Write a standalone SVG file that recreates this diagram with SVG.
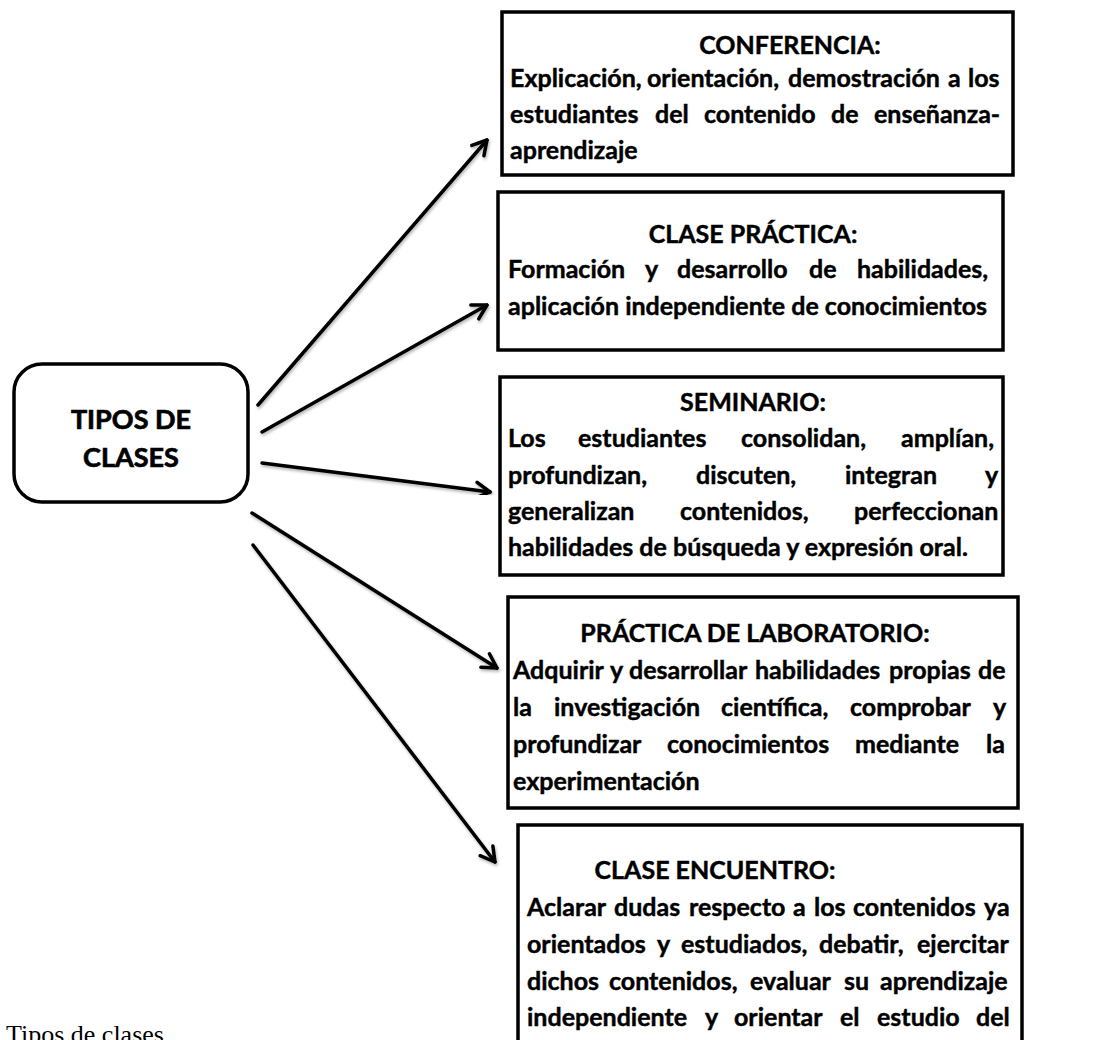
<svg xmlns="http://www.w3.org/2000/svg" width="1099" height="1040" viewBox="0 0 1099 1040">
<style>
.box{fill:#fff;stroke:#000;stroke-width:3.5}
.t{font-family:Lato,"Open Sans","Liberation Sans",sans-serif;font-weight:bold;font-size:25px;fill:#000;stroke:#000;stroke-width:0.45}
.h{text-anchor:middle}
.n{font-size:27px;stroke-width:0.7}
.c{stroke:#000;stroke-width:3.5;fill:none;stroke-linecap:round;marker-end:url(#arr);filter:url(#sh)}
.cap{font-family:"Liberation Serif","Times New Roman",serif;font-size:26px;fill:#000}
</style>
<defs>
<marker id="arr" viewBox="0 0 20 20" refX="18" refY="10" markerWidth="20" markerHeight="20" markerUnits="userSpaceOnUse" orient="auto">
<path d="M4,2 L18,10 L4,18" fill="none" stroke="#000" stroke-width="3.5" stroke-linecap="round" stroke-linejoin="round"/>
</marker>
<filter id="sh" x="-10%" y="-10%" width="120%" height="120%">
<feDropShadow dx="1" dy="2" stdDeviation="1.5" flood-color="#000" flood-opacity="0.3"/>
</filter>
</defs>
<rect width="1099" height="1040" fill="#fff"/>
<g id="connectors">
<line class="c" x1="258" y1="405" x2="487" y2="140"/>
<line class="c" x1="262" y1="432" x2="487" y2="305"/>
<line class="c" x1="262" y1="463" x2="490" y2="492"/>
<line class="c" x1="252" y1="513" x2="497" y2="668"/>
<line class="c" x1="253" y1="545" x2="495" y2="862"/>
</g>
<g id="tipos">
<rect class="box" x="14" y="364" width="234" height="138" rx="28"/>
<text class="t h n" x="131" y="429">TIPOS DE</text>
<text class="t h n" x="131" y="467">CLASES</text>
</g>
<g id="conferencia">
<rect class="box" x="502" y="12" width="511" height="163"/>
<text class="t h" x="790" y="54">CONFERENCIA:</text>
<text class="t" y="87"><tspan x="510">Explicación,</tspan><tspan x="647">orientación,</tspan><tspan x="788">demostración</tspan><tspan x="948">a</tspan><tspan x="968">los</tspan></text>
<text class="t" y="123"><tspan x="510">estudiantes</tspan><tspan x="655">del</tspan><tspan x="704">contenido</tspan><tspan x="831">de</tspan><tspan x="874">enseñanza-</tspan></text>
<text class="t" x="510" y="159">aprendizaje</text>
</g>
<g id="clase-practica">
<rect class="box" x="498" y="192" width="505" height="158"/>
<text class="t h" x="753" y="243">CLASE PRÁCTICA:</text>
<text class="t" y="278"><tspan x="508">Formación</tspan><tspan x="645">y</tspan><tspan x="677">desarrollo</tspan><tspan x="809">de</tspan><tspan x="857">habilidades,</tspan></text>
<text class="t" x="508" y="315">aplicación independiente de conocimientos</text>
</g>
<g id="seminario">
<rect class="box" x="500" y="377" width="503" height="198"/>
<text class="t h" x="753" y="411">SEMINARIO:</text>
<text class="t" y="447"><tspan x="508">Los</tspan><tspan x="578">estudiantes</tspan><tspan x="741">consolidan,</tspan><tspan x="901">amplían,</tspan></text>
<text class="t" y="484"><tspan x="508">profundizan,</tspan><tspan x="696">discuten,</tspan><tspan x="845">integran</tspan><tspan x="985">y</tspan></text>
<text class="t" y="520"><tspan x="508">generalizan</tspan><tspan x="680">contenidos,</tspan><tspan x="854">perfeccionan</tspan></text>
<text class="t" x="508" y="556">habilidades de búsqueda y expresión oral.</text>
</g>
<g id="laboratorio">
<rect class="box" x="508" y="597" width="510" height="211"/>
<text class="t h" x="755" y="642">PRÁCTICA DE LABORATORIO:</text>
<text class="t" y="679"><tspan x="513">Adquirir</tspan><tspan x="610">y</tspan><tspan x="629">desarrollar</tspan><tspan x="755">habilidades</tspan><tspan x="889">propias</tspan><tspan x="978">de</tspan></text>
<text class="t" y="716"><tspan x="513">la</tspan><tspan x="554">investigación</tspan><tspan x="721">científica,</tspan><tspan x="850">comprobar</tspan><tspan x="993">y</tspan></text>
<text class="t" y="753"><tspan x="513">profundizar</tspan><tspan x="667">conocimientos</tspan><tspan x="855">mediante</tspan><tspan x="986">la</tspan></text>
<text class="t" x="513" y="790">experimentación</text>
</g>
<g id="encuentro">
<rect class="box" x="518" y="825" width="504" height="240"/>
<text class="t h" x="715" y="879">CLASE ENCUENTRO:</text>
<text class="t" y="916"><tspan x="527">Aclarar</tspan><tspan x="614">dudas</tspan><tspan x="689">respecto</tspan><tspan x="793">a</tspan><tspan x="814">los</tspan><tspan x="853">contenidos</tspan><tspan x="984">ya</tspan></text>
<text class="t" y="953"><tspan x="527">orientados</tspan><tspan x="657">y</tspan><tspan x="681">estudiados,</tspan><tspan x="819">debatir,</tspan><tspan x="917">ejercitar</tspan></text>
<text class="t" y="990"><tspan x="527">dichos</tspan><tspan x="609">contenidos,</tspan><tspan x="750">evaluar</tspan><tspan x="844">su</tspan><tspan x="880">aprendizaje</tspan></text>
<text class="t" y="1026"><tspan x="527">independiente</tspan><tspan x="705">y</tspan><tspan x="734">orientar</tspan><tspan x="840">el</tspan><tspan x="877">estudio</tspan><tspan x="976">del</tspan></text>
</g>
<text class="cap" x="6" y="1043">Tipos de clases</text>
</svg>
